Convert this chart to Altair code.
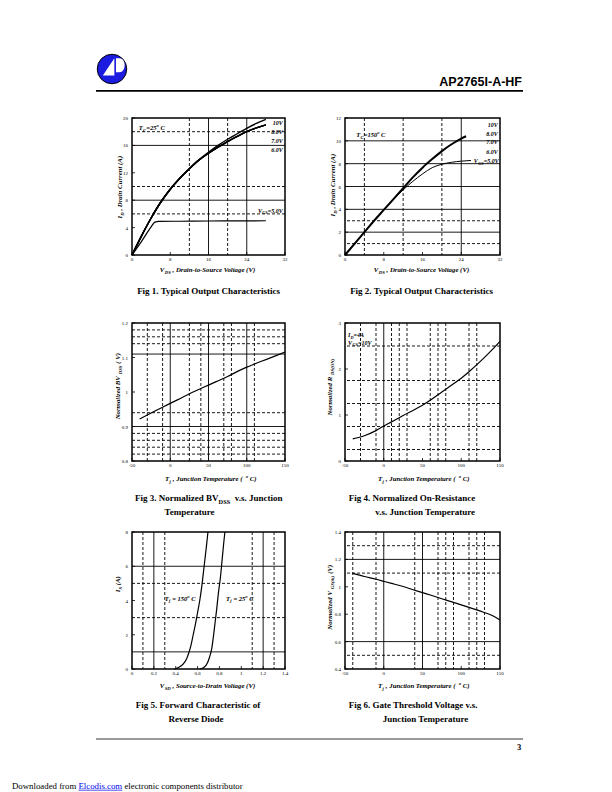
import altair as alt
import pandas as pd

SERIF = "Liberation Serif"
SANS = "Liberation Sans"

# ---------------- data ----------------
fig1_vds = [0, 2, 4, 6, 8, 10, 12, 14, 16, 18, 20, 22, 24, 26, 28]
fig1_id_10v = [0, 2.8, 5.4, 7.7, 9.6, 11.2, 12.6, 13.9, 15.0, 16.0, 16.9, 17.7, 18.5, 19.2, 19.8]
fig1_id_8v = [0, 2.8, 5.4, 7.7, 9.6, 11.2, 12.6, 13.85, 14.85, 15.75, 16.55, 17.3, 18.0, 18.55, 19.0]
fig1_id_7v = [0, 2.8, 5.4, 7.7, 9.6, 11.2, 12.6, 13.85, 14.85, 15.75, 16.55, 17.3, 18.0, 18.55, 19.0]
fig1_id_6v = [0, 2.8, 5.4, 7.7, 9.6, 11.2, 12.6, 13.85, 14.85, 15.75, 16.55, 17.3, 18.0, 18.55, 19.0]
fig1_vds_5v = [0, 2, 4, 4.8, 5.6, 10, 16, 22, 28]
fig1_id_5v = [0, 2.0, 4.1, 4.8, 4.9, 4.93, 4.96, 4.98, 5.0]

fig2_vds = [0, 2, 4, 6, 8, 10, 12, 14, 16, 18, 20, 22, 24, 25]
fig2_id_10v = [0, 1.0, 2.0, 3.0, 3.95, 4.9, 5.85, 6.8, 7.65, 8.4, 9.1, 9.7, 10.2, 10.4]
fig2_vds_5v = [0, 2, 4, 6, 8, 10, 12, 14, 16, 18, 20, 22, 24, 26]
fig2_id_5v = [0, 1.0, 2.0, 3.0, 3.95, 4.85, 5.7, 6.45, 7.1, 7.65, 7.95, 8.12, 8.22, 8.28]

fig3_tj = [-40, -25, -10, 0, 10, 25, 40, 50, 60, 75, 90, 100, 110, 125, 140, 150]
fig3_bv = [0.922, 0.939, 0.956, 0.967, 0.978, 0.995, 1.01, 1.02, 1.03, 1.045, 1.062, 1.072,
           1.081, 1.094, 1.107, 1.116]

fig4_tj = [-40, -25, -10, 0, 10, 25, 40, 50, 60, 75, 90, 100, 110, 125, 140, 150]
fig4_rds = [0.48, 0.55, 0.66, 0.76, 0.85, 0.99, 1.12, 1.21, 1.32, 1.5, 1.68, 1.8, 1.94, 2.17, 2.42, 2.6]

fig5_vsd_150 = [0.39, 0.43, 0.47, 0.5, 0.52, 0.54, 0.56, 0.58, 0.6, 0.62, 0.64, 0.66, 0.68, 0.695]
fig5_is_150 = [0, 0.1, 0.3, 0.6, 0.95, 1.4, 2.0, 2.6, 3.3, 4.0, 4.9, 6.0, 7.1, 8.0]
fig5_vsd_25 = [0.62, 0.66, 0.69, 0.71, 0.73, 0.745, 0.76, 0.775, 0.79, 0.81, 0.825, 0.84, 0.85]
fig5_is_25 = [0, 0.1, 0.35, 0.7, 1.2, 1.9, 2.7, 3.5, 4.4, 5.4, 6.4, 7.4, 8.0]

fig6_tj = [-40, -25, -10, 0, 10, 25, 40, 50, 60, 75, 90, 100, 110, 125, 140, 150]
fig6_vth = [1.098, 1.075, 1.055, 1.04, 1.025, 1.002, 0.975, 0.957, 0.94, 0.913, 0.886, 0.868,
            0.85, 0.822, 0.79, 0.757]

# tick labels
fig1_xticks = [0, 8, 16, 24, 32]
fig1_yticks = [0, 4, 8, 12, 16, 20]
fig2_xticks = [0, 8, 16, 24, 32]
fig2_yticks = [0, 2, 4, 6, 8, 10, 12]
temp_ticks = [-50, 0, 50, 100, 150]
fig3_yticks = [0.8, 0.9, 1, 1.1, 1.2]
fig4_yticks = [0, 1, 2, 3]
fig5_xticks = [0, 0.2, 0.4, 0.6, 0.8, 1, 1.2, 1.4]
fig5_yticks = [0, 2, 4, 6, 8]
fig6_yticks = [0.4, 0.6, 0.8, 1, 1.2, 1.4]

ONE = pd.DataFrame({"k": [0]})

# ---------------- text helpers ----------------
TB = {" ": 250, "(": 333, ")": 333, ",": 250, "-": 333, ".": 250, "=": 570, "°": 400}
TR = {" ": 250, "(": 333, ")": 333, ",": 250, "-": 333, ".": 250, "=": 564}
for d in "0123456789":
    TB[d] = 500
    TR[d] = 500
TB.update(dict(A=722, B=667, C=722, D=722, E=667, F=611, G=778, H=778, I=389, J=500, K=778, L=667,
               M=944, N=722, O=778, P=611, R=722, S=556, T=667, U=722, V=722, W=1000, X=722, Y=722))
TB.update(dict(a=500, b=556, c=444, d=556, e=444, f=333, g=500, h=556, i=278, j=333, k=556, l=278,
               m=833, n=556, o=500, p=556, q=556, r=444, s=389, t=333, u=556, v=500, w=722, x=500,
               y=500, z=444))
TR.update(dict(A=722, B=667, C=667, D=722, E=611, F=556, G=722, H=722, I=333, N=722, O=722, S=556,
               T=611, V=722))
TR.update(dict(a=444, b=500, c=444, d=500, e=444, f=333, g=500, h=500, i=278, j=278, k=500, l=278,
               m=778, n=500, o=500, p=500, q=500, r=333, s=389, t=278, u=500, v=500, w=722, x=500,
               y=500, z=444))


def measure(t, size, table):
    return sum(table.get(c, 500) for c in t) / 1000.0 * size


def rich(pieces, size, x, y, align="center", italic=True, bold=True, angle=0,
         xs=None, ys=None, color="black", table=TB, font=SERIF):
    items = []
    for t, k in pieces:
        s = size * 0.7 if k != "n" else size
        off = size * 0.3 if k == "sub" else (-size * 0.42 if k == "sup" else 0.0)
        items.append((t, s, off, measure(t, s, table)))
    total = sum(it[3] for it in items)
    cum = {"left": 0.0, "center": -total / 2.0, "right": -total}[align]
    out = []
    for t, s, off, wdt in items:
        stripped = t.lstrip(" ")
        lead = measure(t[: len(t) - len(stripped)], s, table)
        pos = cum + lead
        props = dict(text=stripped, fontSize=s, font=font, fontWeight="bold" if bold else "normal",
                     fontStyle="italic" if italic else "normal", align="left",
                     baseline="alphabetic", color=color)
        if xs is not None:
            ch = alt.Chart(pd.DataFrame({"x": [x], "y": [y]})).mark_text(
                dx=pos, dy=off, **props).encode(
                x=alt.X("x:Q", scale=xs, axis=None), y=alt.Y("y:Q", scale=ys, axis=None))
        elif angle == 0:
            ch = alt.Chart(ONE).mark_text(**props).encode(
                x=alt.value(x + pos), y=alt.value(y + off))
        else:
            ch = alt.Chart(ONE).mark_text(angle=270, **props).encode(
                x=alt.value(x + off), y=alt.value(y - pos))
        out.append(ch)
        cum += wdt
    return out


def lines_df(pairs):
    rows = []
    for name, xv, yv in pairs:
        for a, b in zip(xv, yv):
            rows.append({"x": a, "y": b, "s": name})
    return pd.DataFrame(rows)


def panel(w, h, xdom, ydom, xticks, yticks, grid, series, annot):
    xs = alt.Scale(domain=xdom, nice=False, zero=False)
    ys = alt.Scale(domain=ydom, nice=False, zero=False)
    layers = []
    for key, ch, dash in [("xsolid", "x", None), ("xdash", "x", [3, 2]),
                          ("ysolid", "y", None), ("ydash", "y", [3, 2])]:
        vals = grid.get(key, [])
        if not vals:
            continue
        mk = dict(color="black", strokeWidth=0.9)
        if dash:
            mk["strokeDash"] = dash
        base = alt.Chart(pd.DataFrame({"v": vals})).mark_rule(**mk)
        if ch == "x":
            layers.append(base.encode(x=alt.X("v:Q", scale=xs, axis=None)))
        else:
            layers.append(base.encode(y=alt.Y("v:Q", scale=ys, axis=None)))
    # inward tick marks
    layers.append(alt.Chart(pd.DataFrame({"v": xticks})).mark_rule(color="black", strokeWidth=0.8)
                  .encode(x=alt.X("v:Q", scale=xs, axis=None), y=alt.value(h), y2=alt.value(h - 3)))
    layers.append(alt.Chart(pd.DataFrame({"v": yticks})).mark_rule(color="black", strokeWidth=0.8)
                  .encode(y=alt.Y("v:Q", scale=ys, axis=None), x=alt.value(0), x2=alt.value(3)))
    # tick labels (placed through the scales)
    xl = pd.DataFrame({"v": xticks, "lab": [f"{v:g}" for v in xticks]})
    yl = pd.DataFrame({"v": yticks, "lab": [f"{v:g}" for v in yticks]})
    layers.append(alt.Chart(xl).mark_text(font=SERIF, fontSize=5, color="black", align="center",
                                          baseline="top").encode(
        x=alt.X("v:Q", scale=xs, axis=None), y=alt.value(h + 2), text="lab:N"))
    layers.append(alt.Chart(yl).mark_text(font=SERIF, fontSize=5, color="black", align="right",
                                          baseline="middle").encode(
        y=alt.Y("v:Q", scale=ys, axis=None), x=alt.value(-4), text="lab:N"))
    for df, sw in series:
        layers.append(alt.Chart(df).mark_line(color="black", strokeWidth=sw, interpolate="monotone")
                      .encode(x=alt.X("x:Q", scale=xs, axis=None),
                              y=alt.Y("y:Q", scale=ys, axis=None),
                              detail="s:N"))
    layers += annot(xs, ys)
    return alt.layer(*layers).properties(
        width=w, height=h, view=alt.ViewBackground(stroke="black", strokeWidth=1.5))


def spacer(w, h):
    return alt.Chart(ONE).mark_point(opacity=0).encode(
        x=alt.value(0), y=alt.value(0)).properties(width=w, height=h)


LW, RW = 153, 155

# ---------------- Fig 1 ----------------
def annot1(xs, ys):
    a = []
    for lab, yv in [("10V", 19.0), ("8.0V", 17.65), ("7.0V", 16.3), ("6.0V", 15.0)]:
        a += rich([(lab, "n")], 6, 31.6, yv, align="right", xs=xs, ys=ys)
    a += rich([("V", "n"), ("GS", "sub"), ("=5.0V", "n")], 6, 31.6, 6.2, align="right", xs=xs, ys=ys)
    a += rich([("T", "n"), ("C", "sub"), ("=25", "n"), ("o", "sup"), (" C", "n")], 6.5, 1.4, 18.3,
              align="left", xs=xs, ys=ys)
    a += rich([("V", "n"), ("DS", "sub"), (" , Drain-to-Source Voltage (V)", "n")], 6.8, 77, 154)
    a += rich([("I", "n"), ("D", "sub"), (" , Drain Current (A)", "n")], 6.8, -10, 68, angle=270)
    a += rich([("Fig 1. Typical Output Characteristics", "n")], 9, 77, 176, italic=False)
    return a


fig1 = panel(LW, 137, [0, 32], [0, 20], fig1_xticks, fig1_yticks,
             dict(xsolid=[16, 24], xdash=[12, 20], ysolid=[8, 16], ydash=[6, 10, 18]),
             [(lines_df([("10V", fig1_vds, fig1_id_10v), ("8V", fig1_vds, fig1_id_8v),
                         ("7V", fig1_vds, fig1_id_7v), ("6V", fig1_vds, fig1_id_6v)]), 1.4),
              (lines_df([("5V", fig1_vds_5v, fig1_id_5v)]), 1.2)],
             annot1)

# ---------------- Fig 2 ----------------
def annot2(xs, ys):
    a = []
    for lab, yv in [("10V", 11.23), ("8.0V", 10.43), ("7.0V", 9.68), ("6.0V", 8.88)]:
        a += rich([(lab, "n")], 6, 31.6, yv, align="right", xs=xs, ys=ys)
    a += rich([("V", "n"), ("GS", "sub"), ("=5.0V", "n")], 6, 31.8, 8.05, align="right", xs=xs, ys=ys)
    a += rich([("T", "n"), ("C", "sub"), ("=150", "n"), ("o", "sup"), (" C", "n")], 6.5, 2.3, 10.35,
              align="left", xs=xs, ys=ys)
    a += rich([("V", "n"), ("DS", "sub"), (" , Drain-to-Source Voltage (V)", "n")], 6.8, 78, 154)
    a += rich([("I", "n"), ("D", "sub"), (" , Drain Current (A)", "n")], 6.8, -10.5, 66, angle=270)
    a += rich([("Fig 2. Typical Output Characteristics", "n")], 9, 77, 176, italic=False)
    return a


fig2 = panel(RW, 137, [0, 32], [0, 12], fig2_xticks, fig2_yticks,
             dict(xsolid=[24], xdash=[4, 12, 20], ysolid=[2, 4, 6, 8, 10], ydash=[1, 3]),
             [(lines_df([("10V", fig2_vds, fig2_id_10v)]), 2.0),
              (lines_df([("5V", fig2_vds_5v, fig2_id_5v)]), 1.0)],
             annot2)

# ---------------- Fig 3 ----------------
TJ_TITLE = [("T", "n"), ("j", "sub"), (" , Junction Temperature (", "n"), ("o", "sup"), (" C)", "n")]


def annot3(xs, ys):
    a = []
    a += rich(TJ_TITLE, 6.8, 79, 158)
    a += rich([("Normalized BV", "n"), ("DSS", "sub"), (" ( V)", "n")], 6.8, -12, 63, angle=270)
    a += rich([("Fig 3. Normalized BV", "n"), ("DSS", "sub"), ("  v.s. Junction", "n")], 9, 77, 178,
              italic=False)
    a += rich([("Temperature", "n")], 9, 58, 192, italic=False)
    return a


fig3 = panel(LW, 138, [-50, 150], [0.8, 1.2], temp_ticks, fig3_yticks,
             dict(xsolid=[0, 50, 100], xdash=[-30, -10, 25, 40, 70, 80, 110],
                  ysolid=[0.9, 1.11], ydash=[0.82, 0.84, 0.86, 0.88, 0.94, 1.14, 1.16, 1.18]),
             [(lines_df([("bv", fig3_tj, fig3_bv)]), 1.2)],
             annot3)

# ---------------- Fig 4 ----------------
def annot4(xs, ys):
    a = []
    a += rich([("I", "n"), ("D", "sub"), ("=4A", "n")], 6, -46, 2.7, align="left", xs=xs, ys=ys)
    a += rich([("V", "n"), ("GS", "sub"), ("=10V", "n")], 6, -46, 2.53, align="left", xs=xs, ys=ys)
    a += rich(TJ_TITLE, 6.8, 79, 158)
    a += rich([("Normalized R", "n"), ("DS(ON)", "sub")], 6.8, -13, 64, angle=270)
    a += rich([("Fig 4. Normalized On-Resistance", "n")], 9, 67, 178, italic=False)
    a += rich([("v.s. Junction Temperature", "n")], 9, 81, 192, italic=False)
    return a


fig4 = panel(RW, 138, [-50, 150], [0, 3], temp_ticks, fig4_yticks,
             dict(xsolid=[0], xdash=[-30, -10, 10, 20, 30, 60, 70, 80, 110, 120],
                  ydash=[0.25, 0.75, 1.25, 1.75, 2.5]),
             [(lines_df([("rds", fig4_tj, fig4_rds)]), 1.2)],
             annot4)

# ---------------- Fig 5 ----------------
def annot5(xs, ys):
    a = []
    a += rich([("T", "n"), ("j", "sub"), (" = 150", "n"), ("o", "sup"), (" C", "n")], 6.5, 0.3, 4.0,
              align="left", xs=xs, ys=ys)
    a += rich([("T", "n"), ("j", "sub"), (" = 25", "n"), ("o", "sup"), (" C", "n")], 6.5, 0.86, 4.0,
              align="left", xs=xs, ys=ys)
    a += rich([("V", "n"), ("SD", "sub"), (" , Source-to-Drain Voltage (V)", "n")], 6.8, 77, 156)
    a += rich([("I", "n"), ("S", "sub"), (" (A)", "n")], 6.8, -12, 52, angle=270)
    a += rich([("Fig 5. Forward Characteristic of", "n")], 9, 66, 176, italic=False)
    a += rich([("Reverse Diode", "n")], 9, 64, 190, italic=False)
    return a


fig5 = panel(LW, 137, [0, 1.4], [0, 8], fig5_xticks, fig5_yticks,
             dict(xsolid=[0.2, 1.2], xdash=[0.1, 0.3, 1.1, 1.3], ysolid=[1, 6], ydash=[3, 5]),
             [(lines_df([("150", fig5_vsd_150, fig5_is_150), ("25", fig5_vsd_25, fig5_is_25)]), 1.2)],
             annot5)

# ---------------- Fig 6 ----------------
def annot6(xs, ys):
    a = []
    a += rich(TJ_TITLE, 6.8, 79, 156)
    a += rich([("Normalized V", "n"), ("GS(th)", "sub"), (" (V)", "n")], 6.8, -13, 65, angle=270)
    a += rich([("Fig 6. Gate Threshold Voltage v.s.", "n")], 9, 69, 176, italic=False)
    a += rich([("Junction Temperature", "n")], 9, 81, 190, italic=False)
    return a


fig6 = panel(RW, 137, [-50, 150], [0.4, 1.4], temp_ticks, fig6_yticks,
             dict(xsolid=[0, 50], xdash=[-40, -10, 40, 70, 80, 90, 110, 120, 130],
                  ysolid=[0.6, 1.2], ydash=[0.5, 1.1, 1.3]),
             [(lines_df([("vth", fig6_tj, fig6_vth)]), 1.2)],
             annot6)

# ---------------- header / footer (cells of width 120, content overflows right) ----------------
LOGO = "M-0.62,0.44L0.16,-0.73L0.16,0.44Z M0.27,-0.73L0.5,-0.73C0.98,-0.73 0.98,0.22 0.5,0.22L0.27,0.22Z"
header = alt.layer(
    alt.Chart(ONE).mark_point(shape="circle", size=870, filled=True, color="#1c1ce0", stroke="black",
                              strokeWidth=1, opacity=1).encode(x=alt.value(100), y=alt.value(57)),
    alt.Chart(ONE).mark_point(shape=LOGO, size=870, filled=True, color="white", strokeWidth=0,
                              opacity=1).encode(x=alt.value(100), y=alt.value(57)),
    alt.Chart(ONE).mark_text(text="AP2765I-A-HF", font=SANS, fontSize=12.5, fontWeight="bold",
                             align="right", baseline="alphabetic", color="black").encode(
        x=alt.value(510), y=alt.value(74)),
    alt.Chart(ONE).mark_rule(color="black", strokeWidth=1.7).encode(
        x=alt.value(84), x2=alt.value(511), y=alt.value(78.8)),
).properties(width=120, height=106)

dl1, dl2, dl3 = "Downloaded from", "Elcodis.com", "electronic components distributor"
FS = 8.8
SPW = measure(" ", FS, TR)
w1 = measure(dl1, FS, TR) + SPW
w2 = measure(dl2, FS, TR) + SPW
FOOT_Y = 120
foot_text = dict(font=SERIF, fontSize=FS, align="left", baseline="alphabetic")
footer = alt.layer(
    alt.Chart(ONE).mark_rule(color="black", strokeWidth=0.8).encode(
        x=alt.value(84), x2=alt.value(511), y=alt.value(70)),
    alt.Chart(ONE).mark_text(text="3", font=SERIF, fontSize=8.5, fontWeight="bold", align="center",
                             baseline="alphabetic", color="black").encode(
        x=alt.value(507), y=alt.value(81)),
    alt.Chart(ONE).mark_text(text=dl1, color="black", **foot_text).encode(
        x=alt.value(0), y=alt.value(FOOT_Y)),
    alt.Chart(ONE).mark_text(text=dl2, color="#0000ee", **foot_text).encode(
        x=alt.value(w1), y=alt.value(FOOT_Y)),
    alt.Chart(ONE).mark_rule(color="#0000ee", strokeWidth=0.7).encode(
        x=alt.value(w1), x2=alt.value(w1 + w2 - SPW), y=alt.value(FOOT_Y + 1.2)),
    alt.Chart(ONE).mark_text(text=dl3, color="black", **foot_text).encode(
        x=alt.value(w1 + w2), y=alt.value(FOOT_Y)),
).properties(width=120, height=122)

cells = [
    header, spacer(LW, 106), spacer(60, 106), spacer(RW, 106),
    spacer(120, 137), fig1, spacer(60, 137), fig2,
    spacer(120, 68), spacer(LW, 68), spacer(60, 68), spacer(RW, 68),
    spacer(120, 138), fig3, spacer(60, 138), fig4,
    spacer(120, 71), spacer(LW, 71), spacer(60, 71), spacer(RW, 71),
    spacer(120, 137), fig5, spacer(60, 137), fig6,
    footer, spacer(LW, 122), spacer(60, 122), spacer(RW, 122),
]

chart = alt.concat(*cells, columns=4, spacing=0, bounds="flush", align="each",
                   padding=0).configure_view(stroke="transparent")

chart.save("out.html", embed_options={"renderer": "svg", "actions": False})
